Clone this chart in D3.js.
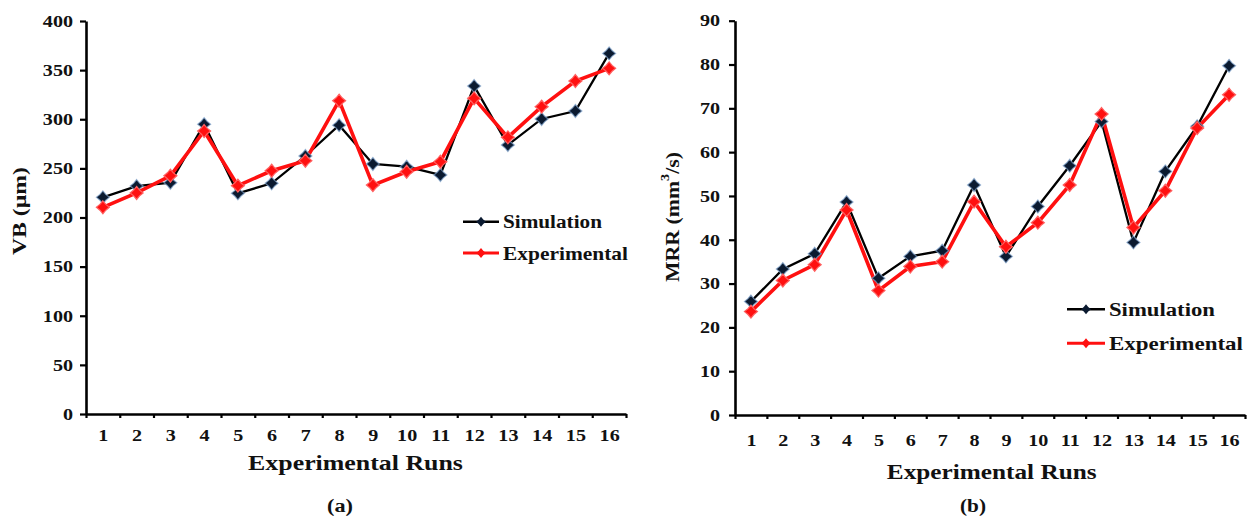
<!DOCTYPE html>
<html><head><meta charset="utf-8">
<script src="https://cdn.jsdelivr.net/npm/d3@7"></script>
<style>
html,body{margin:0;padding:0;background:#fff;}
text{font-family:"Liberation Serif","Times New Roman",serif;font-weight:bold;fill:#111;}
</style></head>
<body><svg id="chart" width="1249" height="520"></svg>
<script>
// ---- data ----
const runs = [1,2,3,4,5,6,7,8,9,10,11,12,13,14,15,16];
const vbSimulation   = [220.5,232,235.4,295,224.6,234.8,262.6,294,254.5,251.7,243.3,333.8,273.8,300.3,308.4,367];
const vbExperimental = [210.4,225,242.5,288,232.4,247.6,257.8,318.9,233,246.6,256.8,321.3,281.6,312.8,338.9,351.8];
const mrrSimulation   = [25.9,33.3,36.8,48.6,31.2,36.2,37.5,52.5,36.2,47.6,56.9,67.0,39.4,55.6,65.9,79.7];
const mrrExperimental = [23.6,30.7,34.3,46.8,28.4,33.9,35.0,48.7,38.4,43.9,52.5,68.7,42.8,51.2,65.5,73.1];
const vbTicks  = [0,50,100,150,200,250,300,350,400];
const mrrTicks = [0,10,20,30,40,50,60,70,80,90];
const seriesNames = ["Simulation","Experimental"];

const svg = d3.select("#chart");
const SX = 1.22;

function starPath(r){
  const w = r*0.45;
  return `M0,${-r}L${w},${-w}L${r},0L${w},${w}L0,${r}L${-w},${w}L${-r},0L${-w},${-w}Z`;
}
function stretchText(sel, sx){
  sel.each(function(){
    const t = d3.select(this);
    const x = +t.attr("x")||0, y = +t.attr("y")||0;
    t.attr("x",0).attr("y",0).attr("transform",`translate(${x},${y}) scale(${sx},1)`);
  });
}
function fitText(g, str, width, size){
  const t = g.append("text").attr("font-size",size).attr("text-anchor","middle").attr("dominant-baseline","central");
  if (Array.isArray(str)) {
    str.forEach(p => { const ts = t.append("tspan").text(p.t); if (p.sup) ts.attr("baseline-shift","super").attr("font-size",size*0.65); });
  } else t.text(str);
  const w = t.node().getComputedTextLength();
  return {t, sx: width / w};
}
function placeText(parent, str, cx, cy, width, size, rotate){
  const g = parent.append("g");
  const r = fitText(g, str, width, size);
  g.attr("transform", `translate(${cx},${cy})` + (rotate?` rotate(${rotate})`:"") + ` scale(${r.sx},1)`);
  return g;
}

function drawPanel(cfg){
  const g = svg.append("g");
  const x = d3.scaleLinear().domain([0.5,16.5]).range(cfg.xr);
  const y = d3.scaleLinear().domain([0, d3.max(cfg.yTicks)]).range(cfg.yr);

  // y axis
  const ya = g.append("g").attr("transform",`translate(${cfg.xr[0]},0)`)
    .call(d3.axisLeft(y).tickValues(cfg.yTicks).tickSize(6).tickPadding(cfg.yPad).tickSizeOuter(0));
  ya.select(".domain").attr("stroke","#000").attr("stroke-width",2.6);
  ya.selectAll(".tick line").attr("stroke","#000").attr("stroke-width",2.2);
  ya.selectAll(".tick text").attr("font-size",16.5).attr("font-family",null);
  stretchText(ya.selectAll(".tick text"), SX);

  // x axis boundary ticks
  const bounds = runs.map(r=>r-0.5).concat([16.5]);
  const xb = g.append("g").attr("transform",`translate(0,${cfg.yr[0]})`)
    .call(d3.axisBottom(x).tickValues(bounds).tickSize(4).tickFormat("").tickSizeOuter(0));
  xb.select(".domain").attr("stroke","#000").attr("stroke-width",2.6);
  xb.selectAll(".tick line").attr("stroke","#000").attr("stroke-width",2.2);
  // x labels
  const xl = g.append("g").attr("transform",`translate(0,${cfg.yr[0]})`)
    .call(d3.axisBottom(x).tickValues(runs).tickSize(0).tickPadding(cfg.xPad));
  xl.select(".domain").remove();
  xl.selectAll(".tick text").attr("font-size",16.5).attr("font-family",null);
  stretchText(xl.selectAll(".tick text"), SX);

  const line = d3.line().x((d,i)=>x(runs[i])).y(d=>y(d));
  g.append("path").datum(cfg.sim).attr("d",line).attr("fill","none").attr("stroke","#000").attr("stroke-width",2.3);
  g.append("path").datum(cfg.exp).attr("d",line).attr("fill","none").attr("stroke","#ff1010").attr("stroke-width",3.6);
  g.append("g").selectAll("path").data(cfg.sim).join("path")
    .attr("d",starPath(6.5)).attr("transform",(d,i)=>`translate(${x(runs[i])},${y(d)})`)
    .attr("fill","#0b1a30").attr("stroke","#7fa3cc").attr("stroke-width",1.2).attr("stroke-opacity",0.7);
  g.append("g").selectAll("path").data(cfg.exp).join("path")
    .attr("d",starPath(6.5)).attr("transform",(d,i)=>`translate(${x(runs[i])},${y(d)})`)
    .attr("fill","#ff1010").attr("stroke","#ff6060").attr("stroke-width",1.2);

  // legend
  const L = cfg.legend;
  const colors = ["#000","#ff1010"];
  const fills = ["#0b1a30","#ff1010"];
  seriesNames.forEach((name,i)=>{
    const yy = L.ys[i];
    g.append("line").attr("x1",L.x1).attr("x2",L.x2).attr("y1",yy).attr("y2",yy)
      .attr("stroke",colors[i]).attr("stroke-width",i?3:2.4);
    g.append("path").attr("d",starPath(5)).attr("transform",`translate(${(L.x1+L.x2)/2},${yy})`).attr("fill",fills[i]);
    const tg = g.append("g");
    const r = fitText(tg, name, L.widths[i], 19);
    r.t.attr("text-anchor","start");
    tg.attr("transform",`translate(${L.tx},${yy}) scale(${r.sx},1)`);
  });

  placeText(g, cfg.yTitle, cfg.yTitlePos[0], cfg.yTitlePos[1], cfg.yTitleLen, 19, -90);
  placeText(g, "Experimental Runs", cfg.xTitlePos[0], cfg.xTitlePos[1], cfg.xTitleLen, 21);
  placeText(g, cfg.label, cfg.labelPos[0], cfg.labelPos[1], cfg.labelLen, 19);
}

drawPanel({
  xr:[86,626], yr:[414,21], yTicks:vbTicks, yPad:7, xPad:15,
  sim:vbSimulation, exp:vbExperimental,
  legend:{x1:463,x2:499,tx:503,ys:[221.7,253],widths:[99,125]},
  yTitle:"VB (µm)", yTitlePos:[20,211], yTitleLen:88,
  xTitlePos:[355.5,463], xTitleLen:215,
  label:"(a)", labelPos:[340,506], labelLen:26
});
drawPanel({
  xr:[735,1245], yr:[415,20.7], yTicks:mrrTicks, yPad:9, xPad:19,
  sim:mrrSimulation, exp:mrrExperimental,
  legend:{x1:1067,x2:1105,tx:1109,ys:[309.3,343.3],widths:[106,134]},
  yTitle:[{t:"MRR (mm"},{t:"3",sup:true},{t:"/s)"}], yTitlePos:[672,217], yTitleLen:130,
  xTitlePos:[991.7,471.7], xTitleLen:210,
  label:"(b)", labelPos:[973,505], labelLen:26
});
</script></body></html>
